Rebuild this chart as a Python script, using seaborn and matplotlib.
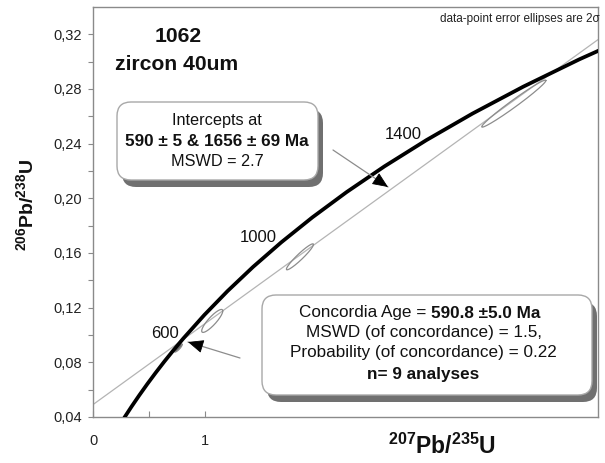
import numpy as np
import pandas as pd
import matplotlib
matplotlib.use("Agg")
import matplotlib.pyplot as plt
import seaborn as sns
from matplotlib.patches import FancyBboxPatch
from matplotlib.transforms import IdentityTransform

# ---------------- data ----------------
# Concordia curve (age in Ma, 207Pb/235U, 206Pb/238U)
conc_age = [250, 300, 350, 400, 450, 500, 550, 600, 700, 800, 900, 1000,
            1100, 1200, 1300, 1400, 1500, 1600, 1700, 1800]
conc_x = [0.2792, 0.3437, 0.4116, 0.4828, 0.5577, 0.6363, 0.7189, 0.8056,
          0.9925, 1.1987, 1.4263, 1.6774, 1.9545, 2.2603, 2.5977, 2.9701,
          3.3810, 3.8344, 4.3348, 4.8869]
conc_y = [0.03954, 0.04764, 0.05580, 0.06402, 0.07230, 0.08065, 0.08906,
          0.09754, 0.11470, 0.13213, 0.14983, 0.16780, 0.18606, 0.20460,
          0.22343, 0.24256, 0.26199, 0.28172, 0.30175, 0.32211]

# Age labels on the concordia
label_ages = [600, 1000, 1400]
label_x = [0.8056, 1.6774, 2.9701]
label_y = [0.09754, 0.16780, 0.24256]

# Discordia intercepts (590 Ma and 1656 Ma)
intercept_x = [0.7879, 4.1085]
intercept_y = [0.09584, 0.29290]

# Data-point error ellipses (2 sigma)
ell_x = [0.760, 1.0625, 1.844, 3.75]
ell_y = [0.0905, 0.1103, 0.1572, 0.2693]
ell_sx = [0.035, 0.094, 0.1205, 0.286]
ell_sy = [0.0030, 0.0084, 0.0095, 0.0172]
ell_rho = [0.85, 0.87, 0.95, 0.983]
ell_filled = [True, False, False, False]

x_ticks = [0, 1]
x_tick_labels = ["0", "1"]
x_minor = [0.5]
y_ticks = [0.04, 0.08, 0.12, 0.16, 0.20, 0.24, 0.28, 0.32]
y_tick_labels = ["0,04", "0,08", "0,12", "0,16", "0,20", "0,24", "0,28", "0,32"]
y_minor = [0.06, 0.10, 0.14, 0.18, 0.22, 0.26, 0.30]

# ---------------- style ----------------
sns.set_theme(style="white")
plt.rcParams['font.family'] = ['Liberation Sans', 'DejaVu Sans']
plt.rcParams['mathtext.fontset'] = 'custom'
plt.rcParams['mathtext.rm'] = 'Liberation Sans'
plt.rcParams['mathtext.bf'] = 'Liberation Sans:bold'
plt.rcParams['mathtext.it'] = 'Liberation Sans:italic'

W, H = 605, 463
fig = plt.figure(figsize=(W / 100, H / 100), dpi=100)
fig.patch.set_facecolor("white")
ax = fig.add_axes([93 / W, 1 - 417 / H, 505 / W, 410 / H])


def fx(x):
    return x / W


def fy(y):
    return 1 - y / H


# Discordia line
ax.axline((intercept_x[0], intercept_y[0]), (intercept_x[1], intercept_y[1]),
          color="#b4b4b4", lw=0.9, zorder=1)

# Error ellipses
t = np.linspace(0, 2 * np.pi, 240)
for cx, cy, sx, sy, r, filled in zip(ell_x, ell_y, ell_sx, ell_sy, ell_rho, ell_filled):
    ex = cx + sx * np.cos(t)
    ey = cy + sy * (r * np.cos(t) + np.sqrt(1 - r * r) * np.sin(t))
    if filled:
        ax.fill(ex, ey, color="#6a6a6a", zorder=2, lw=0)
    ax.plot(ex, ey, color="#8c8c8c", lw=0.9, zorder=2)

# Concordia curve
df = pd.DataFrame({"age": conc_age, "x207": conc_x, "y206": conc_y})
sns.lineplot(data=df, x="x207", y="y206", sort=False, color="black", lw=2.7,
             ax=ax, zorder=3)

for a, lx, ly in zip(label_ages, label_x, label_y):
    ax.annotate(str(a), (lx, ly), xytext=(-3.5, 0.5), textcoords="offset points",
                ha="right", va="baseline", fontsize=12, color="#111111")

ax.set_xlim(0, 4.5)
ax.set_ylim(0.04, 0.34)
ax.set_xlabel("")
ax.set_ylabel("")

ax.set_xticks(x_ticks)
ax.set_xticklabels(x_tick_labels)
ax.set_xticks(x_minor, minor=True)
ax.set_yticks(y_ticks)
ax.set_yticklabels(y_tick_labels)
ax.set_yticks(y_minor, minor=True)

ax.tick_params(axis="x", which="both", direction="in", colors="#8a8a8a",
               labelcolor="#222222", labelsize=10.5, pad=12.5, bottom=True)
ax.tick_params(axis="x", which="major", length=4, width=0.8)
ax.tick_params(axis="x", which="minor", length=4, width=0.8)
ax.tick_params(axis="y", which="both", direction="out", colors="#8a8a8a",
               labelcolor="#222222", labelsize=10.5, left=True)
ax.tick_params(axis="y", which="major", length=3.5, width=0.8, pad=4.5)
ax.tick_params(axis="y", which="minor", length=3.5, width=0.8)
for s in ax.spines.values():
    s.set_color("#8a8a8a")
    s.set_linewidth(1.0)

# Axis titles
fig.text(fx(26), fy(205), r"$\mathbf{^{206}Pb/^{238}U}$", rotation=90,
         ha="center", va="center", fontsize=14, color="#111111")
fig.text(fx(442), fy(446), r"$\mathbf{^{207}Pb/^{235}U}$",
         ha="center", va="center", fontsize=16.5, color="#111111")

# Sample name
fig.text(fx(178), fy(36), "1062", ha="center", va="center", fontsize=15.2,
         fontweight="bold", color="#111111")
fig.text(fx(177), fy(64), "zircon 40um", ha="center", va="center", fontsize=15.2,
         fontweight="bold", color="#111111")

fig.text(fx(600), fy(19), "data-point error ellipses are 2σ", ha="right",
         va="center", fontsize=8.5, color="#222222")

# Boxes (pixel coordinates, y measured from top)
ident = IdentityTransform()


def rbox(x0, y0, x1, y1, rad=14, sdx=5, sdy=7):
    sh = FancyBboxPatch((x0 + sdx, H - y1 - sdy), x1 - x0, y1 - y0,
                        boxstyle=f"round,pad=0,rounding_size={rad}",
                        transform=ident, facecolor="#707070", edgecolor="none",
                        zorder=5)
    bx = FancyBboxPatch((x0, H - y1), x1 - x0, y1 - y0,
                        boxstyle=f"round,pad=0,rounding_size={rad}",
                        transform=ident, facecolor="white", edgecolor="#a8a8a8",
                        lw=1.0, zorder=6)
    fig.add_artist(sh)
    fig.add_artist(bx)


def arrow(x0, y0, x1, y1):
    d = np.array([x1 - x0, y1 - y0], dtype=float)
    d /= np.hypot(*d)
    bxp, byp = x1 - 11 * d[0], y1 - 11 * d[1]
    ax.annotate("", xy=(x1, H - y1), xycoords=ident, xytext=(x0, H - y0),
                textcoords=ident,
                arrowprops=dict(arrowstyle="-", color="#8c8c8c", lw=0.9,
                                shrinkA=0, shrinkB=0), zorder=7)
    ax.annotate("", xy=(x1, H - y1), xycoords=ident, xytext=(bxp, H - byp),
                textcoords=ident,
                arrowprops=dict(arrowstyle="-|>,head_length=0.7,head_width=0.3",
                                color="black", lw=0.6, shrinkA=0, shrinkB=0,
                                mutation_scale=14), zorder=7)


rbox(117, 102, 318, 180)
fig.text(fx(217), fy(121), "Intercepts at", ha="center", va="center",
         fontsize=11.7, color="#111111", zorder=8)
fig.text(fx(217), fy(142), "590 ± 5 & 1656 ± 69 Ma", ha="center", va="center",
         fontsize=12.3, fontweight="bold", color="#111111", zorder=8)
fig.text(fx(217), fy(162), "MSWD = 2.7", ha="center", va="center",
         fontsize=11.7, color="#111111", zorder=8)

rbox(262, 295, 592, 395)
fig.text(fx(431), fy(313), "Concordia Age = ", ha="right", va="center",
         fontsize=12.3, color="#111111", zorder=8)
fig.text(fx(431), fy(313), "590.8 ±5.0 Ma", ha="left", va="center",
         fontsize=12.3, fontweight="bold", color="#111111", zorder=8)
fig.text(fx(424), fy(333), "MSWD (of concordance) = 1.5,", ha="center",
         va="center", fontsize=12.3, color="#111111", zorder=8)
fig.text(fx(423), fy(353), "Probability (of concordance) = 0.22", ha="center",
         va="center", fontsize=12.3, color="#111111", zorder=8)
fig.text(fx(423), fy(375), "n= 9 analyses", ha="center", va="center",
         fontsize=12.3, fontweight="bold", color="#111111", zorder=8)

arrow(333, 150, 388, 187)
arrow(240, 358, 188, 342)

fig.savefig("out.png", dpi=100, facecolor="white")
